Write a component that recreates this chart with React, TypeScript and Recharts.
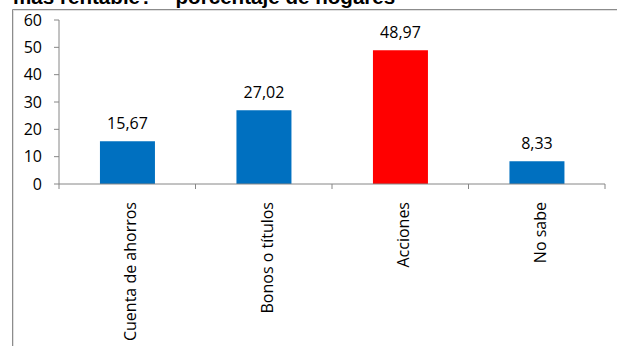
import { Bar, BarChart, Cell, LabelList, XAxis, YAxis } from 'recharts';

const categories = ['Cuenta de ahorros', 'Bonos o títulos', 'Acciones', 'No sabe'];
const percentages = [15.67, 27.02, 48.97, 8.33];
const yTicks = [0, 10, 20, 30, 40, 50, 60];
const highlighted = 'Acciones';

const title = 'más rentable? – porcentaje de hogares';

const data = categories.map((name, i) => ({ name, value: percentages[i] }));

const FONT = '"Open Sans", sans-serif';
const AXIS = '#868686';
const BLUE = '#0070C0';
const RED = '#FF0000';

const fmt = (v: number) => v.toFixed(2).replace('.', ',');

function CategoryTick(props: any) {
  const { x, y, payload, index } = props;
  const off = payload?.offset ?? 68.25;
  return (
    <g>
      <line x1={x + off} x2={x + off} y1={y} y2={y + 5} stroke={AXIS} />
      {index === 0 && <line x1={x - off} x2={x - off} y1={y} y2={y + 5} stroke={AXIS} />}
      <text
        x={x + 9}
        y={y + 18}
        transform={`rotate(-90, ${x + 9}, ${y + 18})`}
        textAnchor="end"
        fontFamily={FONT}
        fontSize={16}
        fill="#000"
      >
        {payload.value}
      </text>
    </g>
  );
}

function ValueLabel(props: any) {
  const { x, y, width, value } = props;
  return (
    <text x={x + width / 2} y={y - 12} textAnchor="middle" fontFamily={FONT} fontSize={16} fill="#000">
      {fmt(value)}
    </text>
  );
}

export default function App() {
  return (
    <div style={{ position: 'absolute', left: 0, top: 0, width: 617, height: 346, overflow: 'hidden', background: '#fff' }}>
      <div style={{ position: 'absolute', left: 0, top: 0 }}>
        <BarChart
          width={617}
          height={346}
          data={data}
          margin={{ top: 20, right: 12, bottom: 0, left: 0 }}
          barCategoryGap="30%"
        >
          <XAxis
            dataKey="name"
            height={162}
            interval={0}
            tickLine={false}
            tickSize={0}
            tickMargin={0}
            axisLine={{ stroke: AXIS }}
            tick={<CategoryTick />}
          />
          <YAxis
            width={59}
            domain={[0, 60]}
            ticks={yTicks}
            interval={0}
            tickSize={5}
            tickMargin={12}
            axisLine={{ stroke: AXIS }}
            tickLine={{ stroke: AXIS }}
            tick={{ fontFamily: FONT, fontSize: 16, fill: '#000' }}
          />
          <Bar dataKey="value" isAnimationActive={false}>
            {data.map((d) => (
              <Cell key={d.name} fill={d.name === highlighted ? RED : BLUE} />
            ))}
            <LabelList dataKey="value" content={<ValueLabel />} />
          </Bar>
        </BarChart>
      </div>
      {/* title and the outer frame of the chart box, drawn over the chart */}
      <svg width={617} height={346} style={{ position: 'absolute', left: 0, top: 0, pointerEvents: 'none' }}>
        <text x={13} y={4} fontFamily='"Liberation Sans", Arial, sans-serif' fontWeight="bold" fontSize={20.6} fill="#000">
          {title}
        </text>
        <line x1={12.5} x2={617} y1={9.5} y2={9.5} stroke="#8c8c8c" />
        <line x1={13} x2={617} y1={10.5} y2={10.5} stroke="#e0e0e0" />
        <line x1={12.5} x2={12.5} y1={9.5} y2={346} stroke="#8c8c8c" />
        <line x1={13.5} x2={13.5} y1={10} y2={346} stroke="#e0e0e0" />
      </svg>
    </div>
  );
}
